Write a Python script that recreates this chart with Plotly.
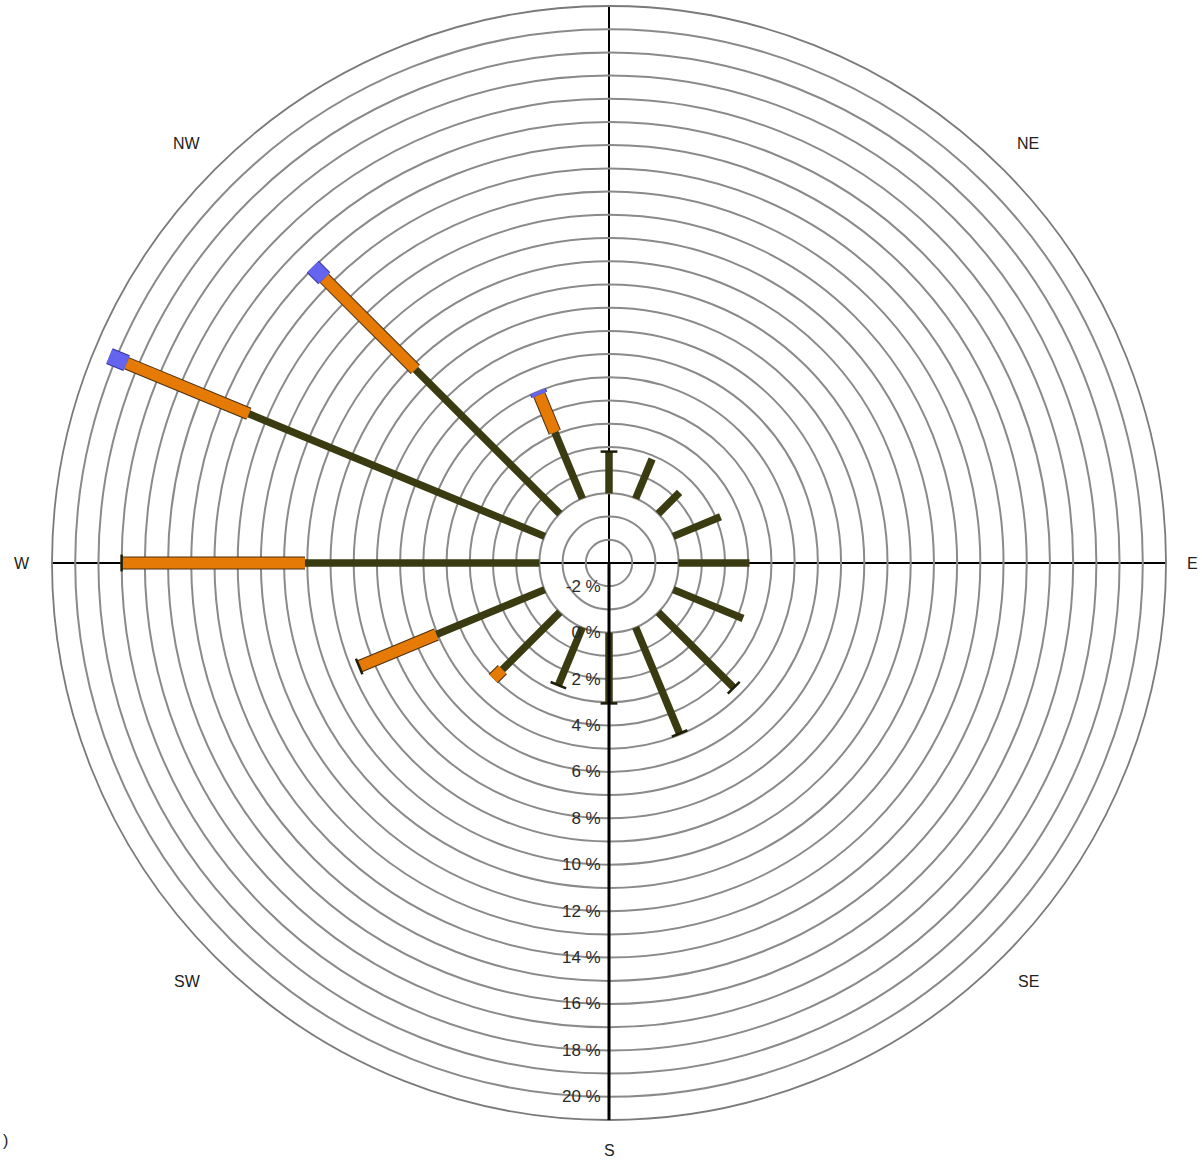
import plotly.graph_objects as go

# ---- data (percent frequency per direction) ----
directions = ["N", "NNE", "NE", "ENE", "E", "ESE", "SE", "SSE",
              "S", "SSW", "SW", "WSW", "W", "WNW", "NW", "NNW"]
low_speed = [1.8, 1.85, 1.3, 2.2, 3.05, 3.25, 4.6, 4.95,
             3.05, 2.7, 3.5, 5.05, 10.1, 13.8, 8.8, 3.1]
mid_speed = [0, 0, 0, 0, 0, 0, 0, 0,
             0, 0, 0.55, 3.6, 7.9, 5.7, 5.55, 1.75]
high_speed = [0, 0, 0, 0, 0, 0, 0, 0,
              0, 0, 0, 0, 0, 0.8, 0.7, 0.15]
end_cap = [1, 0, 0, 0, 0, 0, 1, 1,
           1, 1, 0, 1, 1, 0, 0, 0]

radial_ticks = list(range(-3, 22))
radial_labels = [f"{v} %" if (v % 2 == 0 and -2 <= v <= 20) else "" for v in radial_ticks]
minor_ticks = [v + 0.5 for v in range(-3, 21)]
compass_labels = ["NE", "E", "SE", "S", "SW", "W", "NW"]

angles = [i * 360 / len(directions) for i in range(len(directions))]


def segments(starts, lengths):
    rr, tt = [], []
    for a, s, l in zip(angles, starts, lengths):
        if l <= 0:
            continue
        rr += [s, s + l, None]
        tt += [a, a, None]
    return rr, tt


fig = go.Figure()

c1 = [0] * len(directions)
c2 = [a + b for a, b in zip(c1, low_speed)]
c3 = [a + b for a, b in zip(c2, mid_speed)]
totals = [a + b for a, b in zip(c3, high_speed)]

series = [
    (c1, low_speed, "#3b3b12", 7.5, None, 0),
    (c2, mid_speed, "#e57a06", 11, "#4a3010", 13),
    (c3, high_speed, "#6464ee", 15, "#3535a5", 17),
]
for starts, lengths, color, w, outline, ow in series:
    r, t = segments(starts, lengths)
    if outline:
        fig.add_trace(go.Scatterpolar(r=r, theta=t, mode="lines",
                                      line=dict(color=outline, width=ow),
                                      connectgaps=False, hoverinfo="skip",
                                      showlegend=False))
    fig.add_trace(go.Scatterpolar(r=r, theta=t, mode="lines",
                                  line=dict(color=color, width=w),
                                  connectgaps=False, showlegend=False))

# small caps at the end of some bars
cap_r = [tt for tt, c in zip(totals, end_cap) if c]
cap_t = [a for a, c in zip(angles, end_cap) if c]
fig.add_trace(go.Scatterpolar(r=cap_r, theta=cap_t, mode="markers",
                              marker=dict(symbol="line-ew", size=12, angle=cap_t,
                                          line=dict(color="#1e1e08", width=2.5)),
                              hoverinfo="skip", showlegend=False))

cx, cy, R = 609, 563, 557
W, H = 1202, 1160
dom = dict(x=[(cx - R) / W, (cx + R) / W], y=[1 - (cy + R) / H, 1 - (cy - R) / H])
fig.update_layout(
    width=W, height=H,
    margin=dict(l=0, r=0, t=0, b=0),
    paper_bgcolor="white",
    plot_bgcolor="white",
    showlegend=False,
    polar=dict(
        domain=dom,
        bgcolor="white",
        radialaxis=dict(
            range=[-3, 21],
            angle=-90,
            tickvals=radial_ticks,
            ticktext=radial_labels,
            tickangle=-90,
            side="clockwise",
            ticks="",
            showline=True, linecolor="black", linewidth=3,
            showgrid=True, gridcolor="#8a8a8a", gridwidth=1.5,
            tickfont=dict(family="Liberation Sans, Arial", size=17, color="#2a2a2a"),
        ),
        angularaxis=dict(
            rotation=90, direction="clockwise",
            tickvals=[0, 90, 180, 270],
            showticklabels=False, ticks="",
            showgrid=True, gridcolor="black", gridwidth=2,
            showline=True, linecolor="#7a7a7a", linewidth=1.8,
        ),
    ),
    polar2=dict(
        domain=dom,
        bgcolor="rgba(0,0,0,0)",
        radialaxis=dict(
            range=[-3, 21], angle=-90, side="clockwise",
            tickvals=minor_ticks, showticklabels=False,
            ticks="outside", ticklen=4, tickwidth=1.2, tickcolor="#555",
            showline=False, showgrid=False,
        ),
        angularaxis=dict(rotation=90, direction="clockwise",
                         showticklabels=False, ticks="", showgrid=False, showline=False),
    ),
)

label_pos = {"NE": (1028, 143), "E": (1192, 563), "SE": (1028, 981),
             "S": (609, 1150), "SW": (187, 981), "W": (22, 563), "NW": (187, 143)}
for lab in compass_labels:
    x, y = label_pos[lab]
    fig.add_annotation(x=x / W, y=1 - y / H, xref="paper", yref="paper",
                       text=lab, showarrow=False, xanchor="center", yanchor="middle",
                       font=dict(family="Liberation Sans, Arial", size=16, color="#222"))
fig.add_annotation(x=5 / W, y=1 - 1140 / H, xref="paper", yref="paper", text=")",
                   showarrow=False, xanchor="center", yanchor="middle",
                   font=dict(family="Liberation Sans, Arial", size=16, color="#222"))

fig.write_html("out.html", config={"displayModeBar": False},
               post_script="document.body.style.margin='0';document.body.style.overflow='hidden';")
